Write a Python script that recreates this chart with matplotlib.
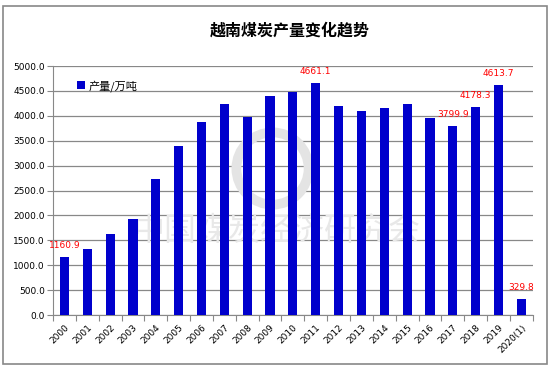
import matplotlib
matplotlib.use("Agg")
import matplotlib.pyplot as plt
from matplotlib.patches import Rectangle

plt.rcParams['font.family'] = ['DejaVu Sans', 'Noto Sans CJK SC']

years = ["2000", "2001", "2002", "2003", "2004", "2005", "2006", "2007",
         "2008", "2009", "2010", "2011", "2012", "2013", "2014", "2015",
         "2016", "2017", "2018", "2019", "2020(1)"]
output = [1160.9, 1325, 1627, 1928, 2731, 3394, 3876, 4237,
          3976, 4398, 4478, 4661.1, 4197, 4096, 4157, 4237,
          3956, 3799.9, 4178.3, 4613.7, 329.8]
labelled = ["2000", "2011", "2017", "2018", "2019", "2020(1)"]

title = "越南煤炭产量变化趋势"
series_name = "产量/万吨"
bar_color = "#0000CC"

fig = plt.figure(figsize=(5.55, 3.69), dpi=100)
fig.patches.append(Rectangle((0.006, 0.013), 0.98, 0.972, transform=fig.transFigure,
                             fill=False, edgecolor="#888888", linewidth=1.2))
ax = fig.add_axes([0.0955, 0.1463, 0.8645, 0.6748])

x = list(range(len(years)))

# faint watermark (logo ring + organisation name)
ax.plot([9.1], [2950], marker="o", markersize=52, markerfacecolor="none",
        markeredgecolor="#e4e4e4", markeredgewidth=7, zorder=1)
ax.text(9.3, 1680, "中国煤炭经济研究会", family=['Noto Sans CJK SC'], fontsize=23,
        color="#e8e8e8", ha="center", va="center", zorder=1)

ax.bar(x, output, width=0.4, color=bar_color, zorder=3, label=series_name)

for i, (y, v) in enumerate(zip(years, output)):
    if y in labelled:
        ax.annotate(f"{v:.1f}", (i, v), xytext=(0, 5), textcoords="offset points",
                    ha="center", va="bottom", color="red", fontsize=6.5, zorder=4)

ax.set_ylim(0, 5000)
ax.set_xlim(-0.5, len(years) - 0.5)
ax.set_yticks(range(0, 5001, 500))
ax.set_yticklabels([f"{t:.1f}" for t in range(0, 5001, 500)], fontsize=6.5)
ax.yaxis.grid(True, color="#888888", linewidth=0.9, zorder=0)
ax.set_axisbelow(True)

ax.set_xticks([i + 0.5 for i in x[:-1]] + [-0.5, len(years) - 0.5])
ax.set_xticklabels([])
ax.set_xticks(x, minor=True)
ax.set_xticklabels(years, minor=True, rotation=45, ha="right", rotation_mode="anchor",
                   fontsize=6.5)
ax.tick_params(axis="x", which="minor", length=0, pad=6)
ax.tick_params(axis="x", which="major", length=4, color="#888888")
ax.tick_params(axis="y", length=4, color="#888888", pad=2)

for s in ["top", "right"]:
    ax.spines[s].set_visible(False)
for s in ["left", "bottom"]:
    ax.spines[s].set_color("#888888")

fig.text(0.523, 0.918, title, family=['Noto Sans CJK SC'], fontsize=11.5,
         fontweight="bold", ha="center", va="center")

ax.legend(loc="upper left", bbox_to_anchor=(0.03, 0.985), frameon=False,
          handlelength=0.7, handleheight=0.7, handletextpad=0.3,
          prop={'family': ['Noto Sans CJK SC'], 'size': 8})

fig.savefig("out.png", dpi=100)
